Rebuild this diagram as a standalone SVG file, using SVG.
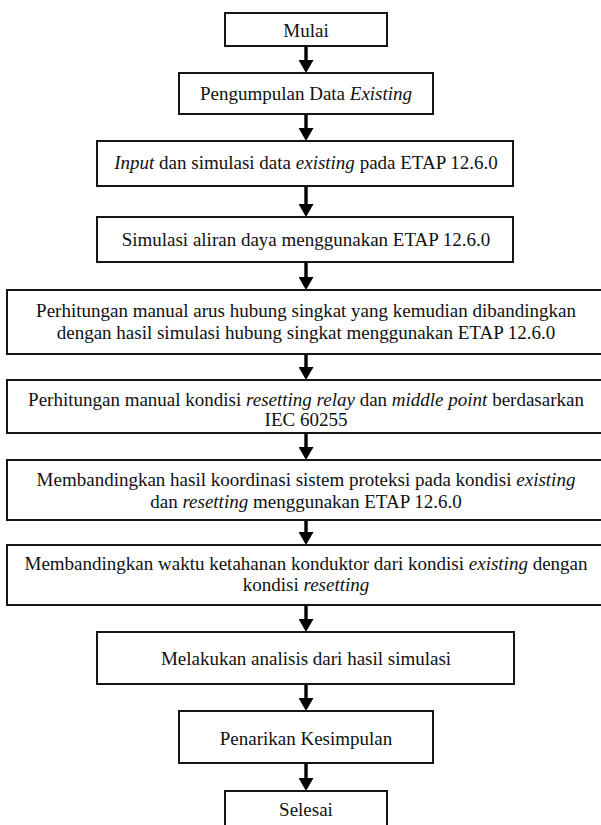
<svg xmlns="http://www.w3.org/2000/svg" width="601" height="825" viewBox="0 0 601 825">
<style>
  .box { fill: #ffffff; stroke: #151515; stroke-width: 2; }
  .t { font-family: "Liberation Serif", "Times New Roman", serif; font-size: 19px; fill: #111111; text-anchor: middle; }
  .i { font-style: italic; }
  .conn { stroke: #000000; stroke-width: 3.4; fill: none; }
</style>
<defs>
  <marker id="ah" viewBox="0 0 13 15" markerWidth="13" markerHeight="15" refX="0" refY="7.5" orient="auto" markerUnits="userSpaceOnUse">
    <path d="M0,0 L13,7.5 L0,15 Z" fill="#000000"/>
  </marker>
</defs>
<rect x="0" y="0" width="601" height="825" fill="#ffffff"/>

<g id="connectors">
  <line class="conn" x1="306" y1="46" x2="306" y2="60" marker-end="url(#ah)"/>
  <line class="conn" x1="306" y1="114" x2="306" y2="128" marker-end="url(#ah)"/>
  <line class="conn" x1="306" y1="186" x2="306" y2="204" marker-end="url(#ah)"/>
  <line class="conn" x1="306" y1="262" x2="306" y2="277" marker-end="url(#ah)"/>
  <line class="conn" x1="306" y1="354" x2="306" y2="367" marker-end="url(#ah)"/>
  <line class="conn" x1="306" y1="433" x2="306" y2="447" marker-end="url(#ah)"/>
  <line class="conn" x1="306" y1="520" x2="306" y2="532" marker-end="url(#ah)"/>
  <line class="conn" x1="306" y1="605" x2="306" y2="619" marker-end="url(#ah)"/>
  <line class="conn" x1="306" y1="684" x2="306" y2="698" marker-end="url(#ah)"/>
  <line class="conn" x1="306" y1="763" x2="306" y2="778" marker-end="url(#ah)"/>
</g>

<g id="mulai">
  <rect class="box" x="225" y="13" width="162" height="33"/>
  <text class="t" x="306" y="37">Mulai</text>
</g>
<g id="pengumpulan">
  <rect class="box" x="179" y="73" width="254" height="41"/>
  <text class="t" x="306" y="99.5">Pengumpulan Data <tspan class="i">Existing</tspan></text>
</g>
<g id="input">
  <rect class="box" x="97" y="141" width="416" height="45"/>
  <text class="t" x="306" y="169"><tspan class="i">Input</tspan> dan simulasi data <tspan class="i">existing</tspan> pada ETAP 12.6.0</text>
</g>
<g id="aliran">
  <rect class="box" x="97" y="217" width="416" height="45"/>
  <text class="t" x="306" y="246">Simulasi aliran daya menggunakan ETAP 12.6.0</text>
</g>
<g id="hubung-singkat">
  <rect class="box" x="7" y="290" width="600" height="64"/>
  <text class="t" x="306" y="316.5">Perhitungan manual arus hubung singkat yang kemudian dibandingkan</text>
  <text class="t" x="306" y="338.5">dengan hasil simulasi hubung singkat menggunakan ETAP 12.6.0</text>
</g>
<g id="resetting">
  <rect class="box" x="7" y="380" width="600" height="53"/>
  <text class="t" x="306" y="405.5">Perhitungan manual kondisi <tspan class="i">resetting relay</tspan> dan <tspan class="i">middle point</tspan> berdasarkan</text>
  <text class="t" x="306" y="426">IEC 60255</text>
</g>
<g id="koordinasi">
  <rect class="box" x="7" y="460" width="600" height="60"/>
  <text class="t" x="306" y="486">Membandingkan hasil koordinasi sistem proteksi pada kondisi <tspan class="i">existing</tspan></text>
  <text class="t" x="306" y="507.5">dan <tspan class="i">resetting</tspan> menggunakan ETAP 12.6.0</text>
</g>
<g id="ketahanan">
  <rect class="box" x="7" y="545" width="600" height="60"/>
  <text class="t" x="306" y="569.5">Membandingkan waktu ketahanan konduktor dari kondisi <tspan class="i">existing</tspan> dengan</text>
  <text class="t" x="306" y="591">kondisi <tspan class="i">resetting</tspan></text>
</g>
<g id="analisis">
  <rect class="box" x="97" y="632" width="417" height="52"/>
  <text class="t" x="306" y="665">Melakukan analisis dari hasil simulasi</text>
</g>
<g id="kesimpulan">
  <rect class="box" x="179" y="711" width="254" height="52"/>
  <text class="t" x="306" y="745">Penarikan Kesimpulan</text>
</g>
<g id="selesai">
  <rect class="box" x="225" y="791" width="162" height="40"/>
  <text class="t" x="306" y="816">Selesai</text>
</g>
</svg>
